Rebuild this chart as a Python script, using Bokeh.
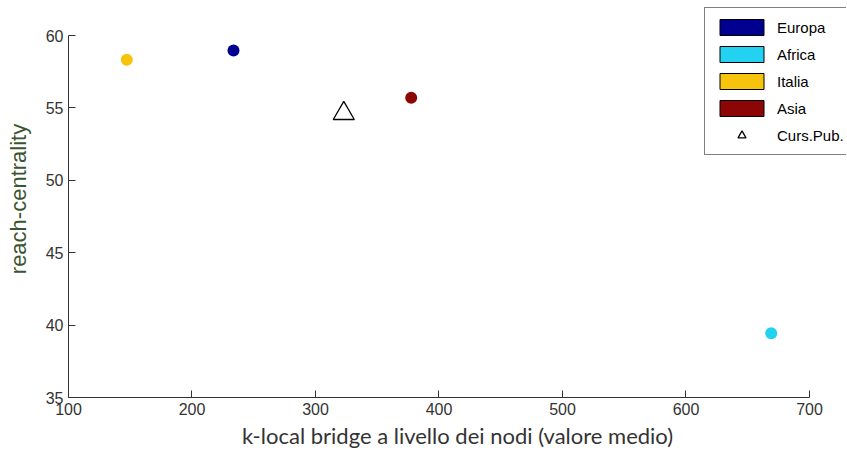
from bokeh.plotting import figure
from bokeh.models import Range1d, ColumnDataSource, Legend, LegendItem
from bokeh.embed import file_html
from bokeh.resources import INLINE

# data
regions = ["Europa", "Africa", "Italia", "Asia"]
region_colors = ["#000090", "#22d2f0", "#f6c40c", "#8c0606"]
k_local_bridge = [233.6, 669.0, 147.2, 377.5]
reach_centrality = [58.96, 39.44, 58.32, 55.70]

pub_label = "Curs.Pub."
pub_x = [322.9]
pub_y = [54.62]

x_ticks = [100, 200, 300, 400, 500, 600, 700]
y_ticks = [35, 40, 45, 50, 55, 60]

# frame covers the whole area right of / above the axes so the legend is not clipped;
# the axis lines themselves are bounded to the data extent
p = figure(frame_width=778, frame_height=397,
           min_border_left=68, min_border_right=0, min_border_top=0, min_border_bottom=58,
           x_range=Range1d(100, 729.96), y_range=Range1d(35, 62.42),
           output_backend="svg", toolbar_location=None)
p.outline_line_color = None
p.xgrid.visible = False
p.ygrid.visible = False
p.background_fill_color = "white"
p.border_fill_color = "white"

p.xaxis.ticker = x_ticks
p.yaxis.ticker = y_ticks
p.xaxis.bounds = (x_ticks[0], x_ticks[-1])
p.yaxis.bounds = (y_ticks[0], y_ticks[-1])
for ax in (p.xaxis[0], p.yaxis[0]):
    ax.major_tick_in = 7
    ax.major_tick_out = 0
    ax.minor_tick_line_color = None
    ax.axis_line_color = "#333333"
    ax.major_tick_line_color = "#333333"
    ax.major_label_text_font = "Liberation Sans"
    ax.major_label_text_font_size = "16px"
    ax.major_label_text_color = "#333333"
    ax.major_label_standoff = 5

p.xaxis.axis_label = "k-local bridge a livello dei nodi (valore medio)"
p.xaxis.axis_label_text_font = "Lato"
p.xaxis.axis_label_text_font_style = "normal"
p.xaxis.axis_label_text_font_size = "22px"
p.xaxis.axis_label_text_color = "#333333"
p.xaxis.axis_label_standoff = 4

p.yaxis.axis_label = "reach-centrality"
p.yaxis.axis_label_text_font = "Liberation Sans"
p.yaxis.axis_label_text_font_style = "normal"
p.yaxis.axis_label_text_font_size = "22px"
p.yaxis.axis_label_text_color = "#3a5530"
p.yaxis.axis_label_standoff = 12

src = ColumnDataSource(dict(x=k_local_bridge, y=reach_centrality, c=region_colors))
p.scatter("x", "y", source=src, size=12, marker="circle", fill_color="c", line_color=None)

tri = p.scatter(pub_x, pub_y, marker="triangle", size=21, fill_color="white",
                line_color="black", line_width=1.3)

nan = float("nan")
items = []
for name, col in zip(regions, region_colors):
    # legend-only swatch renderer (one NaN row so the legend can draw its patch)
    r = p.quad(left=[nan], right=[nan], top=[nan], bottom=[nan],
               fill_color=col, line_color="black", line_width=1)
    items.append(LegendItem(label=name, renderers=[r]))
items.append(LegendItem(label=pub_label, renderers=[tri]))

legend = Legend(items=items, location=(636, 242), glyph_width=55, glyph_height=20,
                label_standoff=8, spacing=7, padding=9, margin=0,
                label_text_font="Liberation Sans", label_text_font_size="15px",
                label_text_color="black", label_height=20,
                border_line_color="black", border_line_width=1,
                background_fill_color="white", background_fill_alpha=1)
p.add_layout(legend, "center")

open("out.html", "w").write(file_html(p, INLINE))
